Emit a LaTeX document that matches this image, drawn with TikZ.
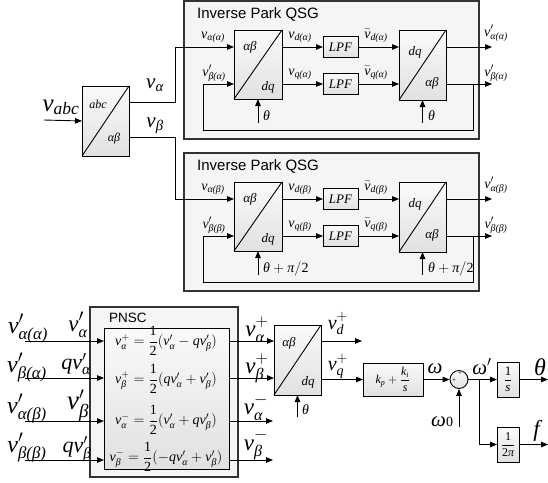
\documentclass[tikz,border=0pt]{standalone}
\usepackage{amsmath}
\usepackage{fontspec}
\setmainfont{Liberation Serif}
\newfontfamily\sanf{Liberation Sans}
\usetikzlibrary{arrows.meta}
\newcommand\fsz[1]{\fontsize{#1}{#1}\selectfont}
\newcommand\mi[1]{\textit{#1}}
\newcommand\mr[1]{\textrm{#1}}
\tikzset{
  wire/.style={line width=0.9pt, draw=black},
  arr/.style={wire, -{Triangle[length=7pt,width=5.5pt]}},
  outerbox/.style={draw=black!80, line width=1.3pt, fill=black!4, inner sep=0pt, outer sep=0pt},
  blk/.style={draw=black, line width=0.9pt, top color=black!2, bottom color=black!12, inner sep=0pt, outer sep=0pt},
  lpfbox/.style={blk, minimum width=35pt, minimum height=21pt, font=\fsz{13}},
  txt/.style={inner sep=0pt, font=\fsz{13}},
  ttl/.style={inner sep=0pt, font=\sanf\fsz{15}},
}
\newcommand\qsgdraw[4]{% #1 prefix, #2 shift, #3 sub, #4 theta label
\begin{scope}[yshift=-#2pt]
\node[outerbox, anchor=north west, minimum width=295pt, minimum height=138pt] (#1box) at (184,1) {};
\node[ttl, anchor=base west] (#1ttl) at (197,18) {Inverse Park QSG};
\node[blk, anchor=north west, minimum width=48pt, minimum height=69pt] (#1p) at (234,30) {};
\draw[wire] (#1p.south west) -- (#1p.north east);
\node[txt, anchor=base] (#1pab) at (250,50) {\mi{αβ}};
\node[txt, anchor=base] (#1pdq) at (268,90) {\mi{dq}};
\node[lpfbox] (#1l1) at (340.5,47) {\mi{LPF}};
\node[lpfbox] (#1l2) at (340.5,84) {\mi{LPF}};
\node[blk, anchor=north west, minimum width=47pt, minimum height=70pt] (#1q) at (399,30) {};
\draw[wire] (#1q.south west) -- (#1q.north east);
\node[txt, anchor=base] (#1qdq) at (415,55) {\mi{dq}};
\node[txt, anchor=base] (#1qab) at (432,86) {\mi{αβ}};
\coordinate (#1fbL) at (203,130);
\coordinate (#1fbR) at (473,84);
\coordinate (#1o1) at (492,47);
\coordinate (#1o2) at (492,84);
\coordinate (#1t1) at (258,123);
\coordinate (#1t2) at (422.5,123);
\draw[arr] (#1p.east |- #1l1) -- (#1l1.west);
\draw[arr] (#1p.east |- #1l2) -- (#1l2.west);
\draw[arr] (#1l1.east) -- (#1q.west |- #1l1);
\draw[arr] (#1l2.east) -- (#1q.west |- #1l2);
\draw[arr] (#1q.east |- #1l1) -- (#1o1);
\draw[arr] (#1q.east |- #1l2) -- (#1o2);
\draw[arr] (#1fbR) |- (#1fbL) |- (#1p.west |- #1l2);
\draw[arr] (#1t1) -- (#1p.south);
\draw[arr] (#1t2) -- (#1q.south);
\node[txt, font=\fsz{14}, anchor=base] (#1lin1) at (213,38) {$\mi{v}_{\mi{α(#3)}}$};
\node[txt, font=\fsz{14}, anchor=base] (#1lin2) at (214,76) {$\mi{v}'_{\mi{β(#3)}}$};
\node[txt, font=\fsz{14}, anchor=base] (#1ld) at (300,38) {$\mi{v}_{\mi{d(#3)}}$};
\node[txt, font=\fsz{14}, anchor=base] (#1lq) at (300,75) {$\mi{v}_{\mi{q(#3)}}$};
\node[txt, font=\fsz{14}, anchor=base] (#1lbd) at (376,38) {$\bar{\mi{v}}_{\mi{d(#3)}}$};
\node[txt, font=\fsz{14}, anchor=base] (#1lbq) at (376,75) {$\bar{\mi{v}}_{\mi{q(#3)}}$};
\node[txt, font=\fsz{14}, anchor=base] (#1lo1) at (496,36) {$\mi{v}'_{\mi{α(#3)}}$};
\node[txt, font=\fsz{14}, anchor=base] (#1lo2) at (496,76) {$\mi{v}'_{\mi{β(#3)}}$};
\node[txt, font=\fsz{14}, anchor=base west] (#1th1) at (263,120) {#4};
\node[txt, font=\fsz{14}, anchor=base west] (#1th2) at (428,120) {#4};
\end{scope}}
\begin{document}
\begin{tikzpicture}[x=1pt,y=-1pt]
\useasboundingbox (0,0) rectangle (548,482);
% abc -> alpha beta
\coordinate (vin) at (44,120);
\node[blk, anchor=north west, minimum width=47pt, minimum height=70pt] (abc) at (82,86) {};
\draw[wire] (abc.south west) -- (abc.north east);
\node[txt, font=\fsz{12}, anchor=base] (abcl) at (98,108) {\mi{abc}};
\node[txt, font=\fsz{12}, anchor=base] (abcab) at (114,141) {\mi{αβ}};
\node[txt, font=\fsz{25}, anchor=base] (vabc) at (61,111) {$\mi{v}_{\mi{abc}}$};
\draw[arr] (vin) -- (abc.west);
% QSG blocks
\qsgdraw{A}{0}{α}{\mi{θ}}
\qsgdraw{B}{152}{β}{$\mi{θ}+\mi{π}/\mr{2}$}
\draw[arr] (abc.east |- 0,102) -| (175,47) -- (Ap.west |- Al1);
\draw[arr] (abc.east |- 0,137) -| (175,199) -- (Bp.west |- Bl1);
\node[txt, font=\fsz{21}, anchor=base] (lva) at (155,88) {$\mi{v}_{\mi{α}}$};
\node[txt, font=\fsz{21}, anchor=base] (lvb) at (155,127) {$\mi{v}_{\mi{β}}$};
% PNSC
\node[outerbox, anchor=north west, minimum width=148pt, minimum height=170pt] (pnsc) at (90,307) {};
\node[ttl, font=\sanf\fsz{13.5}, anchor=base west] (pnsct) at (109,322) {PNSC};
\node[blk, anchor=north west, minimum width=125pt, minimum height=141pt] (eq) at (104,328) {};
\coordinate (i1) at (25,341);
\coordinate (i2) at (25,378);
\coordinate (i3) at (25,421);
\coordinate (i4) at (25,460);
\draw[arr] (i1) -- (eq.west |- i1);
\draw[arr] (i2) -- (eq.west |- i2);
\draw[arr] (i3) -- (eq.west |- i3);
\draw[arr] (i4) -- (eq.west |- i4);
\node[txt, font=\fsz{24}, anchor=base] (li1) at (28,333) {$\mi{v}'_{\mi{α(α)}}$};
\node[txt, font=\fsz{24}, anchor=base] (li2) at (27,372) {$\mi{v}'_{\mi{β(α)}}$};
\node[txt, font=\fsz{24}, anchor=base] (li3) at (27,413) {$\mi{v}'_{\mi{α(β)}}$};
\node[txt, font=\fsz{24}, anchor=base] (li4) at (27,452) {$\mi{v}'_{\mi{β(β)}}$};
\node[txt, font=\fsz{23}, anchor=base] (lr1) at (78,331) {$\mi{v}'_{\mi{α}}$};
\node[txt, font=\fsz{22}, anchor=base] (lr2) at (76,369) {$\mi{qv}'_{\mi{α}}$};
\node[txt, font=\fsz{27}, anchor=base] (lr3) at (78,409) {$\mi{v}'_{\mi{β}}$};
\node[txt, font=\fsz{22}, anchor=base] (lr4) at (77,452) {$\mi{qv}'_{\mi{β}}$};
\node[txt, font=\fsz{14}] (e1) at (166,341) {$\mi{v}^{+}_{\mi{α}}=\dfrac{\mr{1}}{\mr{2}}(\mi{v}'_{\mi{α}}-\mi{qv}'_{\mi{β}})$};
\node[txt, font=\fsz{14}] (e2) at (166,379) {$\mi{v}^{+}_{\mi{β}}=\dfrac{\mr{1}}{\mr{2}}(\mi{qv}'_{\mi{α}}+\mi{v}'_{\mi{β}})$};
\node[txt, font=\fsz{14}] (e3) at (166,420) {$\mi{v}^{-}_{\mi{α}}=\dfrac{\mr{1}}{\mr{2}}(\mi{v}'_{\mi{α}}+\mi{qv}'_{\mi{β}})$};
\node[txt, font=\fsz{14}] (e4) at (166,457) {$\mi{v}^{-}_{\mi{β}}=\dfrac{\mr{1}}{\mr{2}}(-\mi{qv}'_{\mi{α}}+\mi{v}'_{\mi{β}})$};
% alpha beta -> dq
\node[blk, anchor=north west, minimum width=47pt, minimum height=70pt] (pk) at (274,325) {};
\draw[wire] (pk.south west) -- (pk.north east);
\node[txt, anchor=base] (pkab) at (289,346) {\mi{αβ}};
\node[txt, anchor=base] (pkdq) at (308,385) {\mi{dq}};
\coordinate (o3) at (273,421);
\coordinate (o4) at (273,460);
\draw[arr] (eq.east |- i1) -- (pk.west |- i1);
\draw[arr] (eq.east |- i2) -- (pk.west |- i2);
\draw[arr] (eq.east |- i3) -- (o3);
\draw[arr] (eq.east |- i4) -- (o4);
\node[txt, font=\fsz{23}, anchor=base] (lo1) at (257,336) {$\mi{v}^{+}_{\mi{α}}$};
\node[txt, font=\fsz{23}, anchor=base] (lo2) at (257,373) {$\mi{v}^{+}_{\mi{β}}$};
\node[txt, font=\fsz{23}, anchor=base] (lo3) at (256,414) {$\mi{v}^{-}_{\mi{α}}$};
\node[txt, font=\fsz{23}, anchor=base] (lo4) at (256,450) {$\mi{v}^{-}_{\mi{β}}$};
\coordinate (tk) at (297.5,417);
\draw[arr] (tk) -- (pk.south);
\node[txt, font=\fsz{14}, anchor=base west] (ltk) at (302,414) {\mi{θ}};
% PI
\node[blk, minimum width=60pt, minimum height=33pt, font=\fsz{12}] (pi) at (393,379.5) {$\mi{k}_{\mi{p}}+\dfrac{\mi{k}_{\mi{i}}}{\mi{s}}$};
\coordinate (vdend) at (362,341);
\draw[arr] (pk.east |- i1) -- (vdend);
\draw[arr] (pk.east |- pi) -- (pi.west);
\node[txt, font=\fsz{20}, anchor=base] (lvd) at (338,329) {$\mi{v}^{+}_{\mi{d}}$};
\node[txt, font=\fsz{20}, anchor=base] (lvq) at (338,370) {$\mi{v}^{+}_{\mi{q}}$};
% sum and integrator
\node[circle, draw, line width=0.9pt, top color=black!2, bottom color=black!12, minimum size=18pt, inner sep=0pt] (sum) at (459,379.5) {};
\node[txt, font=\fsz{7}] (sp1) at (460,374) {+};
\node[txt, font=\fsz{7}] (sp2) at (454,381) {+};
\draw[arr] (pi.east) -- (sum.west);
\coordinate (w0) at (459,427);
\draw[arr] (w0) -- (sum.south);
\node[txt, font=\fsz{21}, anchor=base] (lw) at (435,373) {\mi{ω}};
\node[txt, font=\fsz{21}, anchor=base west] (lw0) at (431,426) {\mi{ω}\fsz{14}0};
\node[blk, minimum width=22pt, minimum height=35pt, font=\fsz{13}] (ints) at (508,379.5) {$\dfrac{\mr{1}}{\mi{s}}$};
\node[blk, minimum width=22pt, minimum height=35pt, font=\fsz{12}] (f2) at (508,444.5) {$\dfrac{\mr{1}}{\mr{2}\mi{π}}$};
\coordinate (br) at (479,379.5);
\draw[wire] (sum.east) -- (br);
\draw[arr] (br) -- (ints.west);
\draw[arr] (br) |- (f2.west);
\coordinate (thend) at (548,379.5);
\coordinate (fend) at (548,444.5);
\draw[arr] (ints.east) -- (thend);
\draw[arr] (f2.east) -- (fend);
\node[txt, font=\fsz{21}, anchor=base] (lwp) at (482,374) {$\mi{ω}'$};
\node[txt, font=\fsz{24}, anchor=base] (lth) at (540,375) {\mi{θ}};
\node[txt, font=\fsz{23}, anchor=base] (lf) at (538,436) {\mi{f}};
\end{tikzpicture}
\end{document}
